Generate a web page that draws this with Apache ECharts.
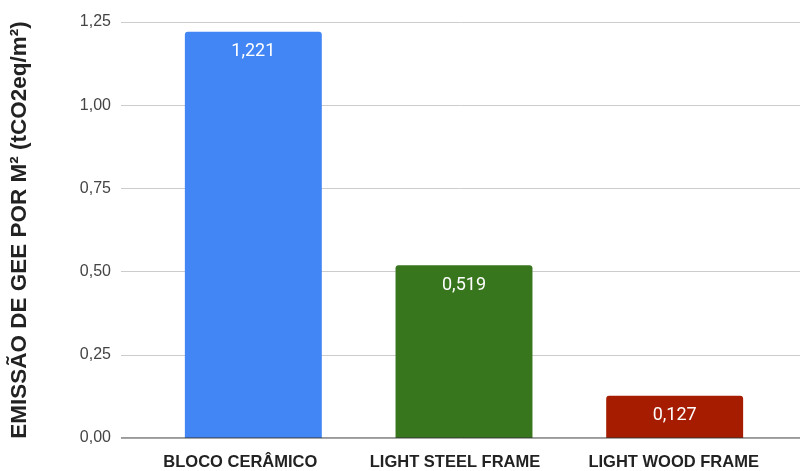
<!DOCTYPE html>
<html><head><meta charset="utf-8">
<script src="https://cdn.jsdelivr.net/npm/echarts@6/dist/echarts.min.js"></script>
<style>html,body{margin:0;padding:0;background:#fff}#c{width:804px;height:471px}</style>
</head><body><div id="c"></div>
<script>
var categories = ['BLOCO CERÂMICO', 'LIGHT STEEL FRAME', 'LIGHT WOOD FRAME'];
var values = [1.221, 0.519, 0.127];
var colors = ['#4285f4', '#38761d', '#a61c00'];
var yTitle = 'EMISSÃO DE GEE POR M² (tCO2eq/m²)';
var fmt = function (v, d) { return v.toFixed(d).replace('.', ','); };

var labelFont = { fontFamily: '"Liberation Sans", Arial', fontWeight: 'bold', fontSize: 16.5, color: '#222' };
var chart = echarts.init(document.getElementById('c'));
chart.setOption({
  animation: false,
  grid: [
    { left: 113, right: 4, top: 22, bottom: 33 },
    { left: 148, right: 24, top: 22, bottom: 33 }
  ],
  xAxis: [
    { gridIndex: 0, type: 'value', show: false, min: 0, max: 1 },
    { gridIndex: 1, type: 'category', data: categories,
      axisLine: { show: false }, axisTick: { show: false },
      axisLabel: { interval: 0, hideOverlap: false, margin: 16,
        fontFamily: labelFont.fontFamily, fontWeight: 'bold', fontSize: 16.5, color: '#222',
        formatter: function (v, i) { return '{s' + i + '|' + v + '}'; },
        rich: {
          s0: Object.assign({ padding: [0, 26, 0, 0] }, labelFont),
          s1: Object.assign({ padding: [0, 18, 0, 0] }, labelFont),
          s2: Object.assign({ padding: [0, 2, 0, 0] }, labelFont)
        } } }
  ],
  yAxis: [
    { gridIndex: 0, type: 'value', min: 0, max: 1.25, interval: 0.25,
      name: yTitle, nameLocation: 'middle', nameGap: 90, nameRotate: 90,
      nameTextStyle: { fontFamily: '"Liberation Sans", Arial', fontWeight: 'bold', fontSize: 22.5, color: '#222' },
      axisLine: { show: false }, axisTick: { show: false },
      axisLabel: { margin: 10, fontFamily: '"Liberation Sans", Arial', fontSize: 16, color: '#444', formatter: function (v) { return fmt(v, 2); } },
      splitLine: { lineStyle: { color: '#cccccc', width: 1 } } },
    { gridIndex: 1, type: 'value', min: 0, max: 1.25, interval: 0.25, show: false, splitLine: { show: false } }
  ],
  series: [
    { type: 'line', xAxisIndex: 0, yAxisIndex: 0, data: [[0, 0], [1, 0]], symbol: 'none',
      lineStyle: { color: '#333', width: 1 }, silent: true, z: 5 },
    { type: 'bar', xAxisIndex: 1, yAxisIndex: 1, barCategoryGap: '35%',
      data: values.map(function (v, i) { return { value: v, itemStyle: { color: colors[i], borderRadius: [3, 3, 0, 0] } }; }),
      label: { show: true, position: 'insideTop', distance: 11, color: '#fff', fontFamily: 'Roboto, Arial', fontSize: 18,
        formatter: function (p) { return fmt(p.value, 3); } },
      z: 3 }
  ]
});
</script></body></html>
